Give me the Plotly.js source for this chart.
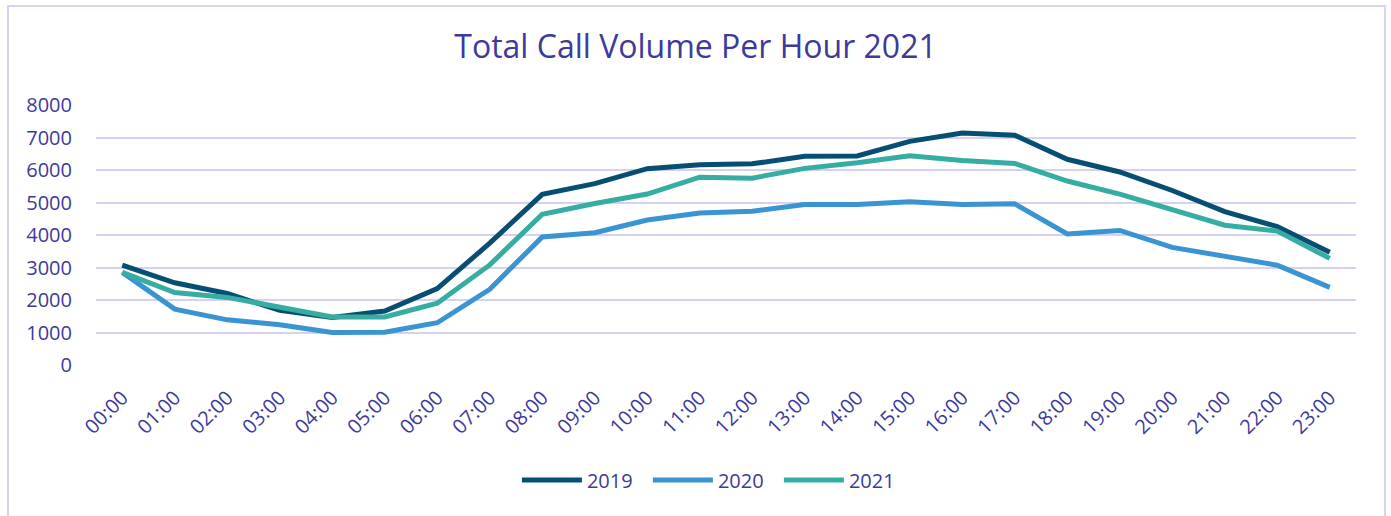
<!DOCTYPE html>
<html>
<head>
<meta charset="utf-8">
<script src="https://cdn.plot.ly/plotly-3.0.1.min.js"></script>
<style>
  html, body { margin: 0; padding: 0; background: #ffffff; overflow: hidden; }
  #chart { position: absolute; left: 0; top: 0; width: 1391px; height: 516px; }
  #frame { position: absolute; left: 7px; top: 5px; width: 1375px; height: 600px;
           border: 2px solid #d7d3f0; pointer-events: none; }
</style>
</head>
<body>
<div id="chart"></div>
<div id="frame"></div>
<script>
const hours = ["00:00","01:00","02:00","03:00","04:00","05:00","06:00","07:00","08:00","09:00","10:00","11:00",
               "12:00","13:00","14:00","15:00","16:00","17:00","18:00","19:00","20:00","21:00","22:00","23:00"];
const calls2019 = [3070,2530,2200,1680,1460,1660,2350,3750,5250,5580,6040,6160,6190,6420,6430,6880,7140,7070,6330,5940,5370,4720,4260,3470];
const calls2020 = [2850,1720,1390,1240,1000,1010,1300,2330,3940,4070,4460,4680,4730,4940,4940,5020,4940,4960,4030,4140,3620,3350,3070,2390];
const calls2021 = [2850,2230,2080,1790,1480,1480,1900,3080,4640,4970,5260,5780,5750,6050,6220,6440,6290,6200,5660,5260,4790,4300,4120,3280];
const seriesNames = ["2019","2020","2021"];
const yTicks = [0,1000,2000,3000,4000,5000,6000,7000,8000];

const colors = ["#064f73","#3b94d2","#35ada2"];
const textColor = "#3d3a9c";
const font = "Open Sans, sans-serif";

const data = [calls2019, calls2020, calls2021].map((vals, i) => ({
  type: "scatter",
  mode: "lines",
  name: seriesNames[i],
  x: hours,
  y: vals,
  line: { color: colors[i], width: 5, shape: "linear" },
  hoverinfo: "x+y+name"
}));

const layout = {
  width: 1391,
  height: 516,
  paper_bgcolor: "rgba(0,0,0,0)",
  plot_bgcolor: "rgba(0,0,0,0)",
  margin: { l: 96, r: 35, t: 105, b: 151 },
  title: {
    text: "Total Call Volume Per Hour 2021",
    font: { family: font, size: 32, color: textColor },
    x: 0.5, xanchor: "center",
    y: 0.91, yanchor: "middle", yref: "container"
  },
  xaxis: {
    type: "category",
    range: [-0.5, 23.5],
    tickangle: -45,
    showgrid: false,
    zeroline: false,
    showline: false,
    ticks: "outside",
    ticklen: 12,
    tickcolor: "rgba(0,0,0,0)",
    tickfont: { family: font, size: 20, color: textColor }
  },
  yaxis: {
    range: [0, 8000],
    tickvals: yTicks,
    ticktext: yTicks.map(String),
    showgrid: true,
    gridcolor: "#d5d1ef",
    gridwidth: 1.5,
    zeroline: false,
    showline: false,
    ticks: "outside",
    ticklen: 19,
    tickcolor: "rgba(0,0,0,0)",
    tickfont: { family: font, size: 20, color: textColor }
  },
  showlegend: true,
  legend: {
    orientation: "h",
    x: 0.49, xanchor: "center",
    y: 0.07, yref: "container", yanchor: "middle",
    font: { family: font, size: 20, color: textColor },
    itemwidth: 60,
    entrywidth: 56,
    entrywidthmode: "pixels",
    tracegroupgap: 0
  }
};

Plotly.newPlot("chart", data, layout, { displayModeBar: false, staticPlot: false });
</script>
</body>
</html>
